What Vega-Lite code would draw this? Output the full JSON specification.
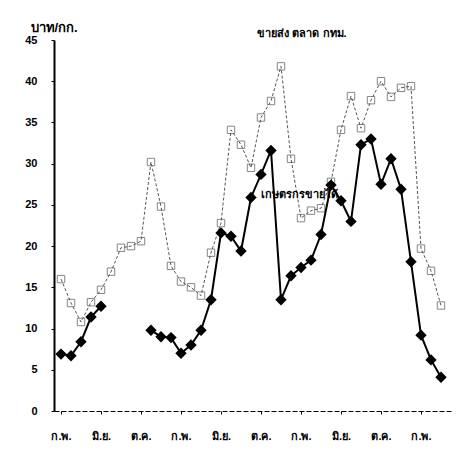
{
  "$schema": "https://vega.github.io/schema/vega-lite/v6.json",
  "autosize": "none",
  "width": 397,
  "height": 371,
  "padding": {"left": 54, "top": 40, "right": 19, "bottom": 56},
  "background": "white",
  "config": {
    "view": {"stroke": null},
    "font": "Liberation Sans",
    "axis": {"grid": false, "domainColor": "black", "tickColor": "black", "labelColor": "black", "titleColor": "black", "labelFont": "Liberation Sans", "labelFontWeight": "bold", "labelFontSize": 11}
  },
  "datasets": {
    "prices": [
      {"m": 1, "wholesale": 16.0, "farm": 6.9},
      {"m": 2, "wholesale": 13.1, "farm": 6.7},
      {"m": 3, "wholesale": 10.8, "farm": 8.4},
      {"m": 4, "wholesale": 13.2, "farm": 11.4},
      {"m": 5, "wholesale": 14.7, "farm": 12.7},
      {"m": 6, "wholesale": 16.9, "farm": null},
      {"m": 7, "wholesale": 19.8, "farm": null},
      {"m": 8, "wholesale": 20.0, "farm": null},
      {"m": 9, "wholesale": 20.6, "farm": null},
      {"m": 10, "wholesale": 30.2, "farm": 9.8},
      {"m": 11, "wholesale": 24.8, "farm": 9.0},
      {"m": 12, "wholesale": 17.6, "farm": 8.9},
      {"m": 13, "wholesale": 15.7, "farm": 7.0},
      {"m": 14, "wholesale": 15.0, "farm": 8.0},
      {"m": 15, "wholesale": 14.0, "farm": 9.8},
      {"m": 16, "wholesale": 19.2, "farm": 13.5},
      {"m": 17, "wholesale": 22.8, "farm": 21.6},
      {"m": 18, "wholesale": 34.1, "farm": 21.2},
      {"m": 19, "wholesale": 32.3, "farm": 19.4},
      {"m": 20, "wholesale": 29.5, "farm": 25.9},
      {"m": 21, "wholesale": 35.6, "farm": 28.7},
      {"m": 22, "wholesale": 37.6, "farm": 31.6},
      {"m": 23, "wholesale": 41.8, "farm": 13.5},
      {"m": 24, "wholesale": 30.6, "farm": 16.4},
      {"m": 25, "wholesale": 23.4, "farm": 17.4},
      {"m": 26, "wholesale": 24.3, "farm": 18.3},
      {"m": 27, "wholesale": 24.6, "farm": 21.4},
      {"m": 28, "wholesale": 27.8, "farm": 27.4},
      {"m": 29, "wholesale": 34.1, "farm": 25.5},
      {"m": 30, "wholesale": 38.2, "farm": 23.0},
      {"m": 31, "wholesale": 34.3, "farm": 32.3},
      {"m": 32, "wholesale": 37.7, "farm": 33.0},
      {"m": 33, "wholesale": 40.0, "farm": 27.5},
      {"m": 34, "wholesale": 38.1, "farm": 30.6},
      {"m": 35, "wholesale": 39.2, "farm": 26.9},
      {"m": 36, "wholesale": 39.4, "farm": 18.1},
      {"m": 37, "wholesale": 19.7, "farm": 9.2},
      {"m": 38, "wholesale": 17.0, "farm": 6.2},
      {"m": 39, "wholesale": 12.8, "farm": 4.1}
    ],
    "labels": [
      {"m": 25.1, "v": 45.75, "text": "ขายส่ง ตลาด กทม."},
      {"m": 24.8, "v": 26.2, "text": "เกษตรกรขายได้"}
    ]
  },
  "layer": [
    {
      "data": {"name": "prices"},
      "mark": {"type": "line", "color": "#555555", "strokeWidth": 1, "strokeDash": [3, 2]},
      "encoding": {
        "x": {"field": "m", "type": "quantitative", "scale": {"domain": [0.3, 40], "nice": false, "zero": false},
          "axis": {"values": [1,2,3,4,5,6,7,8,9,10,11,12,13,14,15,16,17,18,19,20,21,22,23,24,25,26,27,28,29,30,31,32,33,34,35,36,37,38,39],
            "labelExpr": "datum.value % 12 == 1 ? 'ก.พ.' : datum.value % 12 == 5 ? 'มิ.ย.' : datum.value % 12 == 9 ? 'ต.ค.' : ''",
            "title": null, "tickSize": 3, "labelPadding": 16, "domainDash": [5, 2], "labelFontSize": 11, "labelOverlap": false}},
        "y": {"field": "wholesale", "type": "quantitative", "scale": {"domain": [0, 45], "nice": false},
          "axis": {"values": [0,5,10,15,20,25,30,35,40,45], "tickSize": 3, "labelPadding": 14, "domainWidth": 2,
            "title": "บาท/กก.", "titleAngle": 0, "titleX": -24, "titleY": -9, "titleAlign": "left", "titleBaseline": "alphabetic",
            "titleFontSize": 13, "titleFontWeight": "bold"}}
      }
    },
    {
      "data": {"name": "prices"},
      "mark": {"type": "point", "shape": "square", "filled": false, "stroke": "#555555", "strokeWidth": 1, "size": 55},
      "encoding": {
        "x": {"field": "m", "type": "quantitative"},
        "y": {"field": "wholesale", "type": "quantitative"}
      }
    },
    {
      "data": {"name": "prices"},
      "mark": {"type": "line", "color": "black", "strokeWidth": 2, "invalid": "break-paths-show-domains"},
      "encoding": {
        "x": {"field": "m", "type": "quantitative"},
        "y": {"field": "farm", "type": "quantitative"}
      }
    },
    {
      "data": {"name": "prices"},
      "mark": {"type": "point", "shape": "diamond", "filled": true, "color": "black", "opacity": 1, "size": 130},
      "encoding": {
        "x": {"field": "m", "type": "quantitative"},
        "y": {"field": "farm", "type": "quantitative"}
      }
    },
    {
      "data": {"name": "labels"},
      "mark": {"type": "text", "fontSize": 11, "fontWeight": "bold", "color": "black", "align": "center", "baseline": "middle"},
      "encoding": {
        "x": {"field": "m", "type": "quantitative"},
        "y": {"field": "v", "type": "quantitative"},
        "text": {"field": "text"}
      }
    }
  ]
}
